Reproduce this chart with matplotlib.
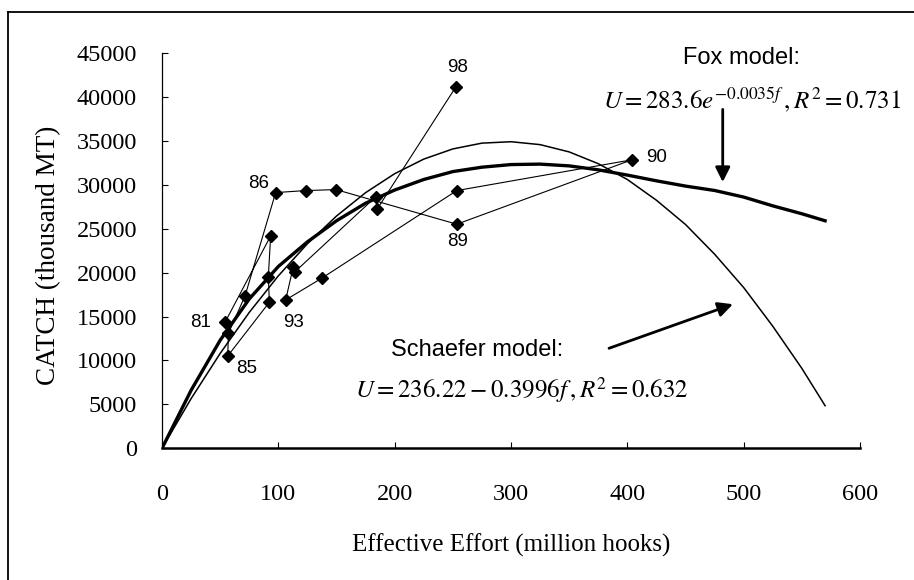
import matplotlib
matplotlib.use("Agg")
import matplotlib.pyplot as plt
from matplotlib.lines import Line2D

plt.rcParams['mathtext.fontset'] = 'stix'

# observed catch / effort path, 1981 -> 1998
effort = [54.2, 93.4, 91.4, 92.3, 56.5, 57.1, 71.4, 97.7, 123.5, 149.6,
          253.4, 403.9, 253.4, 137.3, 106.3, 112.9, 114.4, 184.0, 185.1, 252.8]
catch = [14350, 24180, 19540, 16630, 10510, 13100, 17350, 29110, 29340, 29450,
         25510, 32840, 29340, 19360, 16890, 20680, 20110, 28660, 27260, 41180]

# model curves
curve_f = [0, 25, 50, 75, 100, 125, 150, 175, 200, 225, 250, 275, 300,
           325, 350, 375, 400, 425, 450, 475, 500, 525, 550, 570]
schaefer = [0, 5650, 10800, 15470, 19630, 23290, 26440, 29100, 31260, 32920,
            34080, 34740, 34900, 34570, 33740, 32400, 30600, 28240, 25480,
            22100, 18300, 13900, 9100, 4850]
fox = [0, 6600, 12300, 17000, 20700, 23500, 25900, 27900, 29400, 30600,
       31500, 32000, 32300, 32350, 32150, 31700, 31100, 30450, 29850, 29350,
       28600, 27600, 26700, 25900]

year_labels = ["98", "90", "86", "89", "81", "85", "93"]
year_pos = [(254, 43300), (425, 33050), (83, 30100), (254, 23500),
            (33, 14270), (73, 9030), (113, 14270)]

fig = plt.figure(figsize=(9.14, 5.8), dpi=100)
ax = fig.add_axes([162 / 914, 1 - 448.3 / 580, 698 / 914, 395.3 / 580])

ax.plot(curve_f, schaefer, color='black', lw=1.1)
ax.plot(curve_f, fox, color='black', lw=2.4)
ax.plot(effort, catch, color='black', lw=0.8, marker='D', markersize=6.3)

ax.set_xlim(0, 600)
ax.set_ylim(0, 45000)
ax.set_xticks(range(0, 601, 100))
ax.set_yticks(range(0, 45001, 5000))
ax.spines['top'].set_visible(False)
ax.spines['right'].set_visible(False)
ax.spines['left'].set_linewidth(0.9)
ax.spines['bottom'].set_linewidth(1.8)
ax.tick_params(direction='in', length=4, width=0.8)
ax.tick_params(axis='y', pad=18)
ax.tick_params(axis='x', pad=26)
for lab in ax.get_xticklabels() + ax.get_yticklabels():
    lab.set_fontfamily('Liberation Serif')
    lab.set_fontsize(17.5)

fig.text(511 / 914, 1 - 545 / 580, "Effective Effort (million hooks)",
         family='Liberation Serif', fontsize=18, ha='center', va='center')
fig.text(49 / 914, 1 - 255 / 580, "CATCH (thousand MT)",
         family='Liberation Serif', fontsize=19.5, ha='center', va='center',
         rotation=90)

for lab, (x, y) in zip(year_labels, year_pos):
    ax.text(x, y, lab, family='Liberation Sans', fontsize=13.5,
            ha='center', va='center')

ax.text(498, 44450, "Fox model:", family='Liberation Sans', fontsize=17,
        ha='center', va='center')
ax.text(507, 39670, r"$U = 283.6e^{-0.0035f}\,, R^2 = 0.731$", fontsize=18,
        ha='center', va='center')
ax.text(271, 11200, "Schaefer model:", family='Liberation Sans', fontsize=17,
        ha='center', va='center')
ax.text(309, 6640, r"$U = 236.22 - 0.3996f\,, R^2 = 0.632$", fontsize=18,
        ha='center', va='center')

arrow = dict(arrowstyle='-|>', lw=2, color='black', mutation_scale=22)
ax.annotate("", xy=(482, 29990), xytext=(482, 38900), arrowprops=arrow)
ax.annotate("", xy=(493, 16510), xytext=(382, 11280), arrowprops=arrow)

# scanned page frame
fig.add_artist(Line2D([8 / 914, 1], [1 - 11.5 / 580] * 2, color='black', lw=1.3))
fig.add_artist(Line2D([8 / 914] * 2, [0, 1 - 11.5 / 580], color='black', lw=1.3))

fig.savefig("out.png", dpi=100)
